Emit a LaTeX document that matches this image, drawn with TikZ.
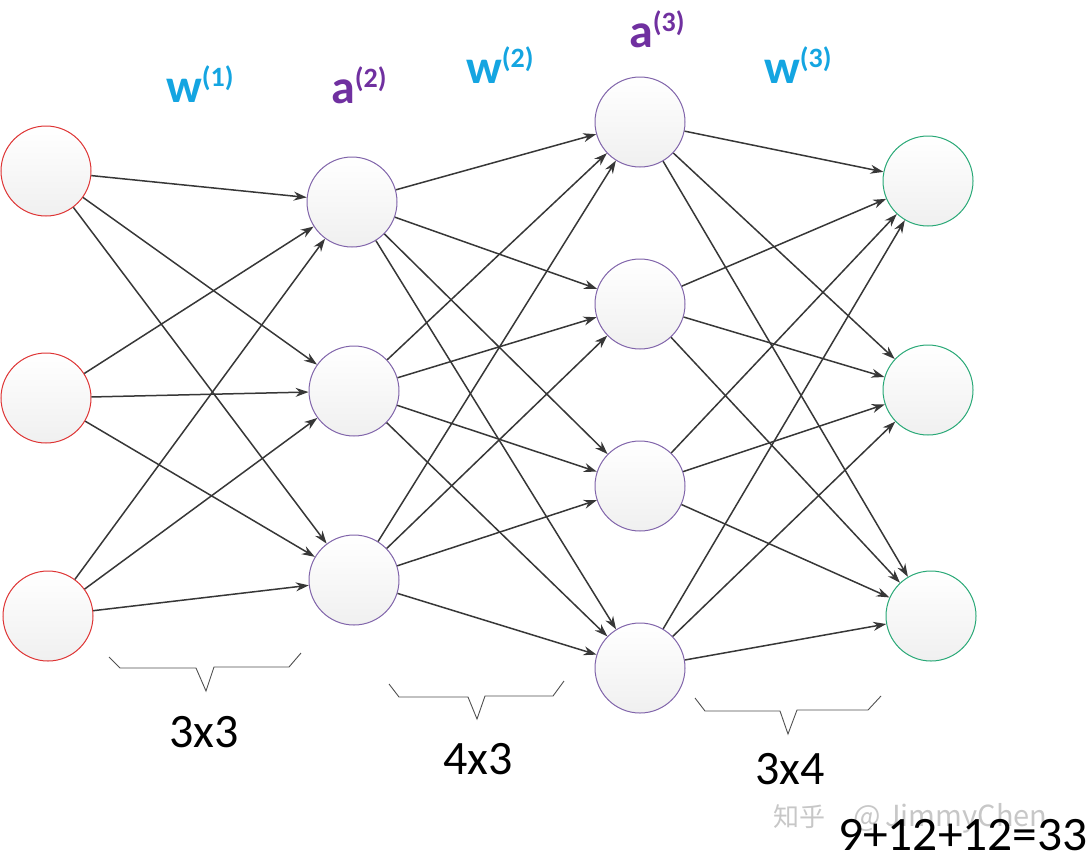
\documentclass[tikz,border=0pt]{standalone}
\usepackage{fontspec}
\setmainfont{Carlito}
\newfontfamily\cjkfont{Noto Sans CJK SC}
\usetikzlibrary{arrows.meta}
\definecolor{redc}{RGB}{222,52,52}
\definecolor{purc}{RGB}{128,100,170}
\definecolor{grnc}{RGB}{40,168,118}
\definecolor{wblue}{RGB}{20,165,225}
\definecolor{apurple}{RGB}{112,48,160}
\definecolor{edgec}{RGB}{55,55,55}
\definecolor{bracec}{RGB}{80,80,80}
\tikzset{
  neuron/.style={circle, minimum size=90pt, inner sep=0pt, line width=1pt,
     top color=white, bottom color=black!6},
  inneuron/.style={neuron, draw=redc},
  hidneuron/.style={neuron, draw=purc},
  outneuron/.style={neuron, draw=grnc},
  conn/.style={draw=edgec, line width=1.5pt, -{Stealth[length=13pt,width=9pt]}},
  bracel/.style={draw=bracec, line width=0.9pt},
  wlab/.style={anchor=base west, inner sep=0pt, text=wblue, font=\fontsize{48}{48}\selectfont\bfseries},
  alab/.style={anchor=base west, inner sep=0pt, text=apurple, font=\fontsize{48}{48}\selectfont\bfseries},
  numlab/.style={anchor=base west, inner sep=0pt, font=\fontsize{48}{48}\selectfont},
}
\newcommand{\supx}[1]{\raisebox{16pt}{\fontsize{28}{28}\selectfont(#1)}}
\begin{document}
\begin{tikzpicture}[x=1pt,y=-1pt]
\useasboundingbox (0,0) rectangle (1091,865);
% layer 1
\node[inneuron] (i1) at (46,171) {};
\node[inneuron] (i2) at (46,398) {};
\node[inneuron] (i3) at (48,616) {};
% layer 2
\node[hidneuron] (h1) at (352,202) {};
\node[hidneuron] (h2) at (354,391) {};
\node[hidneuron] (h3) at (354,580) {};
% layer 3
\node[hidneuron] (k1) at (640,122) {};
\node[hidneuron] (k2) at (640,304) {};
\node[hidneuron] (k3) at (640,486) {};
\node[hidneuron] (k4) at (640,668) {};
% layer 4
\node[outneuron] (o1) at (928,181) {};
\node[outneuron] (o2) at (928,390) {};
\node[outneuron] (o3) at (931,616) {};
% connectors
\foreach \s in {i1,i2,i3}{\foreach \t in {h1,h2,h3}{\draw[conn] (\s) -- (\t);}}
\foreach \s in {h1,h2,h3}{\foreach \t in {k1,k2,k3,k4}{\draw[conn] (\s) -- (\t);}}
\foreach \s in {k1,k2,k3,k4}{\foreach \t in {o1,o2,o3}{\draw[conn] (\s) -- (\t);}}
% labels
\node[wlab] (w1) at (166,102) {w\supx{1}};
\node[alab] (a2) at (331,103) {a\supx{2}};
\node[wlab] (w2) at (466,83) {w\supx{2}};
\node[alab] (a3) at (629,47) {a\supx{3}};
\node[wlab] (w3) at (764,83) {w\supx{3}};
% braces
\draw[bracel] (109,657) -- (120,668) -- (196,668) -- (206,691) -- (214,667) -- (289,667) -- (301,653);
\draw[bracel] (389,684) -- (399,697) -- (468,697) -- (477,719) -- (485,696) -- (553,696) -- (564,681);
\draw[bracel] (695,698) -- (705,711) -- (780,711) -- (788,734) -- (797,710) -- (868,710) -- (881,696);
% sizes
\node[numlab] (n1) at (169,747) {3x3};
\node[numlab] (n2) at (443,774) {4x3};
\node[numlab] (n3) at (755,784) {3x4};
% watermark
\node[anchor=base west, inner sep=0pt, text=black!22, font=\cjkfont\fontsize{26}{26}\selectfont] (wm1) at (773,826) {知乎};
\node[anchor=base west, inner sep=0pt, text=black!22, font=\cjkfont\fontsize{29}{29}\selectfont] (wm2) at (853,826) {@\,JimmyChen};
\node[numlab, xscale=1.03] (tot) at (838,850) {9+12+12=33};
\end{tikzpicture}
\end{document}
